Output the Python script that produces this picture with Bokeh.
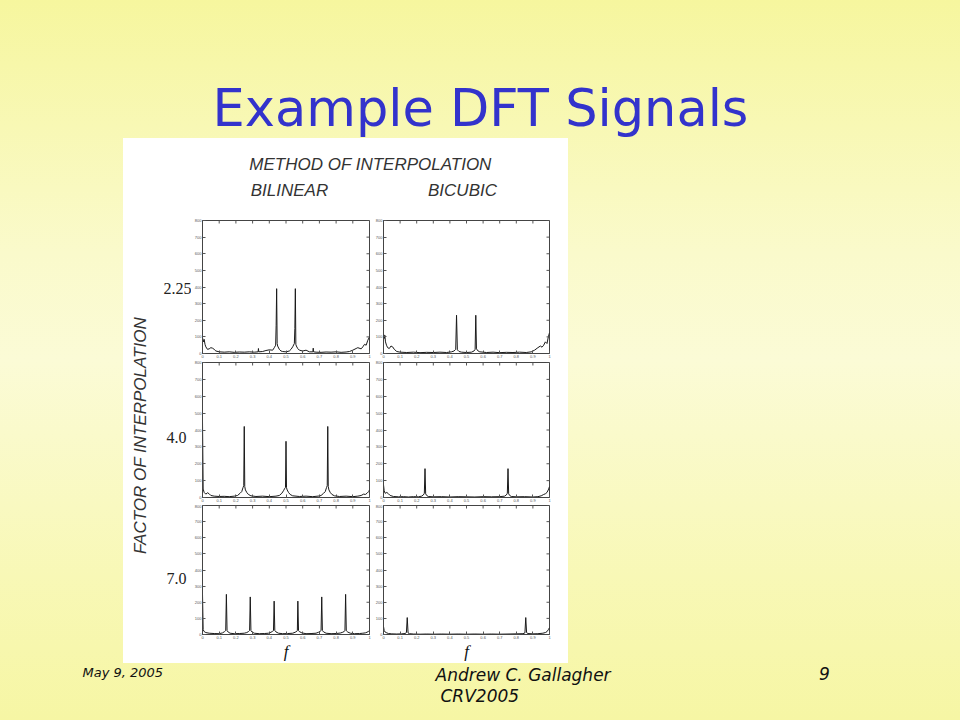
import math
from bokeh.plotting import figure
from bokeh.layouts import row, column
from bokeh.models import Spacer, Range1d, FixedTicker, GlobalInlineStyleSheet
from bokeh.core.properties import value
from bokeh.embed import file_html
from bokeh.resources import INLINE

# ---------------- data ----------------
title_text = "Example DFT Signals"
method_title = "METHOD OF INTERPOLATION"
methods = ["BILINEAR", "BICUBIC"]
factor_title = "FACTOR OF INTERPOLATION"
factors = ["2.25", "4.0", "7.0"]
footer_date = "May 9, 2005"
footer_author = "Andrew C. Gallagher"
footer_conf = "CRV2005"
footer_page = "9"

x_ticks = [0, 0.1, 0.2, 0.3, 0.4, 0.5, 0.6, 0.7, 0.8, 0.9, 1]
y_ticks = [0, 100, 200, 300, 400, 500, 600, 700, 800]

# factor 2.25, bilinear
f_bl_225 = [0.0, 0.005, 0.01, 0.015, 0.02, 0.03, 0.04, 0.05, 0.06, 0.07, 0.08, 0.10, 0.13, 0.16, 0.19, 0.22,
            0.25, 0.28, 0.31, 0.333, 0.335, 0.337, 0.36, 0.38, 0.40, 0.42, 0.43, 0.438, 0.441, 0.444, 0.447,
            0.45, 0.46, 0.47, 0.48, 0.50, 0.52, 0.53, 0.54, 0.55, 0.553, 0.556, 0.559, 0.562, 0.57, 0.58, 0.60,
            0.62, 0.64, 0.661, 0.663, 0.665, 0.68, 0.71, 0.74, 0.77, 0.80, 0.83, 0.86, 0.88, 0.90, 0.92, 0.93,
            0.95, 0.96, 0.97, 0.98, 0.99, 1.0]
m_bl_225 = [95, 70, 85, 55, 40, 25, 28, 35, 32, 25, 15, 10, 8, 10, 7, 9,
            8, 10, 8, 10, 30, 10, 12, 18, 22, 20, 35, 50, 170, 390, 60,
            45, 25, 15, 12, 10, 15, 25, 40, 60, 150, 390, 55, 45, 30, 20, 15,
            20, 10, 10, 32, 10, 8, 7, 9, 8, 10, 7, 9, 12, 20, 30, 35,
            28, 40, 55, 50, 80, 100]

# factor 2.25, bicubic
f_bc_225 = [0.0, 0.004, 0.008, 0.012, 0.018, 0.025, 0.035, 0.045, 0.055, 0.065, 0.08, 0.10, 0.14, 0.18, 0.22,
            0.26, 0.30, 0.34, 0.38, 0.41, 0.425, 0.435, 0.44, 0.445, 0.455, 0.47, 0.50, 0.53, 0.545, 0.552,
            0.556, 0.56, 0.57, 0.58, 0.62, 0.66, 0.70, 0.74, 0.78, 0.82, 0.86, 0.89, 0.91, 0.93, 0.945, 0.955,
            0.965, 0.975, 0.985, 0.993, 1.0]
m_bc_225 = [120, 90, 110, 70, 50, 35, 30, 45, 40, 25, 12, 8, 6, 8, 5,
            7, 6, 8, 6, 10, 15, 25, 230, 22, 12, 8, 6, 8, 15, 25,
            230, 28, 15, 10, 6, 8, 5, 7, 6, 8, 6, 10, 20, 35, 45, 38,
            50, 70, 60, 100, 125]

# factor 4.0, bilinear
f_bl_40 = [0.0, 0.004, 0.01, 0.02, 0.03, 0.04, 0.05, 0.07, 0.10, 0.13, 0.16, 0.19, 0.21, 0.225, 0.235, 0.243,
           0.247, 0.25, 0.253, 0.257, 0.265, 0.275, 0.29, 0.32, 0.36, 0.40, 0.44, 0.46, 0.475, 0.485, 0.493,
           0.497, 0.50, 0.503, 0.507, 0.515, 0.525, 0.54, 0.58, 0.62, 0.66, 0.70, 0.71, 0.725, 0.735, 0.743,
           0.747, 0.75, 0.753, 0.757, 0.765, 0.775, 0.79, 0.82, 0.86, 0.90, 0.93, 0.95, 0.965, 0.975, 0.985,
           0.995, 1.0]
m_bl_40 = [450, 50, 30, 20, 28, 22, 12, 8, 6, 7, 5, 8, 12, 25, 35, 60,
           70, 421, 65, 45, 30, 18, 10, 6, 8, 5, 8, 12, 25, 40, 55,
           60, 333, 58, 45, 30, 18, 10, 6, 8, 5, 9, 12, 25, 35, 60,
           70, 421, 65, 45, 30, 18, 10, 6, 8, 5, 8, 12, 20, 18, 25,
           35, 45]

# factor 4.0, bicubic
f_bc_40 = [0.0, 0.004, 0.01, 0.02, 0.03, 0.04, 0.06, 0.09, 0.12, 0.15, 0.18, 0.21, 0.23, 0.24, 0.246, 0.25,
           0.254, 0.26, 0.27, 0.30, 0.35, 0.40, 0.45, 0.50, 0.55, 0.60, 0.65, 0.70, 0.73, 0.74, 0.746, 0.75,
           0.754, 0.76, 0.77, 0.80, 0.85, 0.90, 0.93, 0.95, 0.965, 0.975, 0.985, 0.995, 1.0]
m_bc_40 = [75, 40, 25, 30, 22, 12, 6, 4, 5, 3, 5, 4, 8, 15, 25, 171,
           22, 12, 6, 4, 5, 3, 5, 4, 3, 5, 4, 5, 8, 15, 25, 171,
           22, 12, 6, 4, 5, 3, 5, 10, 18, 22, 30, 50, 65]

# factor 7.0, bilinear
f_bl_70 = [0.0, 0.004, 0.01, 0.02, 0.04, 0.07, 0.10, 0.12, 0.132, 0.139, 0.143, 0.147, 0.154, 0.165, 0.19, 0.22,
           0.25, 0.265, 0.275, 0.282, 0.286, 0.29, 0.297, 0.31, 0.34, 0.37, 0.395, 0.41, 0.42, 0.425, 0.429,
           0.433, 0.44, 0.455, 0.48, 0.51, 0.54, 0.555, 0.565, 0.568, 0.571, 0.575, 0.58, 0.595, 0.62, 0.65,
           0.68, 0.695, 0.705, 0.71, 0.714, 0.718, 0.725, 0.74, 0.77, 0.80, 0.825, 0.84, 0.85, 0.853, 0.857,
           0.861, 0.87, 0.885, 0.91, 0.94, 0.96, 0.975, 0.985, 0.995, 1.0]
m_bl_70 = [250, 30, 18, 12, 8, 6, 5, 10, 18, 25, 249, 24, 15, 8, 5, 6,
           8, 12, 18, 25, 233, 24, 15, 8, 5, 6, 8, 14, 20, 24, 207,
           25, 16, 8, 5, 6, 8, 14, 20, 25, 207, 24, 18, 10, 5, 6,
           8, 14, 20, 25, 233, 24, 16, 8, 5, 6, 9, 14, 20, 25, 249,
           24, 15, 8, 5, 6, 8, 10, 14, 20, 22]

# factor 7.0, bicubic
f_bc_70 = [0.0, 0.004, 0.01, 0.02, 0.03, 0.05, 0.08, 0.11, 0.13, 0.138, 0.143, 0.148, 0.155, 0.18, 0.22, 0.26,
           0.30, 0.35, 0.40, 0.45, 0.50, 0.55, 0.60, 0.65, 0.70, 0.75, 0.80, 0.84, 0.852, 0.857, 0.862, 0.87,
           0.90, 0.93, 0.96, 0.975, 0.985, 0.993, 1.0]
m_bc_70 = [50, 25, 15, 10, 6, 4, 3, 4, 6, 12, 105, 10, 5, 3, 2, 3,
           2, 3, 2, 3, 2, 3, 2, 3, 2, 3, 4, 5, 10, 105, 12, 6,
           4, 5, 8, 12, 18, 30, 42]

panels = [
    [(f_bl_225, m_bl_225), (f_bc_225, m_bc_225)],
    [(f_bl_40, m_bl_40), (f_bc_40, m_bc_40)],
    [(f_bl_70, m_bl_70), (f_bc_70, m_bc_70)],
]
for r in panels:
    for fv, mv in r:
        assert len(fv) == len(mv), (len(fv), len(mv))

X_MAX = x_ticks[-1]
Y_MAX = y_ticks[-1]

# ---------------- helpers ----------------
def text_fig(w, h, x0, x1, y0, y1, fill=None):
    p = figure(width=w, height=h, x_range=Range1d(x0, x1), y_range=Range1d(y1, y0),
               x_axis_type=None, y_axis_type=None, output_backend="svg", toolbar_location=None,
               min_border=0, outline_line_color=None,
               background_fill_color=fill, border_fill_color=fill)
    if fill is None:
        p.background_fill_alpha = 0
        p.border_fill_alpha = 0
    return p


def panel(fv, mv, w, h, bl, br, bt, bb, xlabel=None):
    p = figure(width=w, height=h, x_range=Range1d(0, X_MAX), y_range=Range1d(0, Y_MAX),
               output_backend="svg", toolbar_location=None,
               min_border_left=bl, min_border_right=br, min_border_top=bt, min_border_bottom=bb,
               background_fill_color="white", border_fill_color="white",
               outline_line_color="#444", outline_line_width=1)
    p.grid.visible = False
    p.line(fv, mv, line_color="#1a1a1a", line_width=1.0)
    # inward ticks on the top and right edges of the box
    p.ray(x=x_ticks, y=[Y_MAX] * len(x_ticks), length=3, length_units="screen",
          angle=-math.pi / 2, line_color="#555", line_width=1)
    p.ray(x=[X_MAX] * len(y_ticks), y=y_ticks, length=3, length_units="screen",
          angle=math.pi, line_color="#555", line_width=1)
    xa = p.xaxis[0]
    ya = p.yaxis[0]
    xa.ticker = FixedTicker(ticks=x_ticks)
    xa.major_label_overrides = {0: "0", 1: "1"}
    ya.ticker = FixedTicker(ticks=y_ticks)
    for ax in (xa, ya):
        ax.major_label_text_font_size = "4px"
        ax.major_label_text_color = "#555555"
        ax.major_label_standoff = 1
        ax.major_tick_in = 3
        ax.major_tick_out = 0
        ax.minor_tick_in = 0
        ax.minor_tick_out = 0
        ax.axis_line_color = "#444"
        ax.major_tick_line_color = "#555"
    if xlabel:
        xa.axis_label = xlabel
        xa.axis_label_text_font = "Liberation Serif"
        xa.axis_label_text_font_style = "italic"
        xa.axis_label_text_font_size = "17px"
        xa.axis_label_text_color = "#111111"
        xa.axis_label_standoff = 0
    return p

# ---------------- title ----------------
title_fig = text_fig(960, 138, 0, 960, 0, 138)
title_fig.text(x=[480], y=[137], text=[title_text], text_font=value("DejaVu Sans"),
               text_font_size="51px", text_color="#3333CC", text_align="center",
               text_baseline="bottom")

# ---------------- white image block ----------------
left_fig = text_fig(68, 525, 123, 191, 138, 663, fill="white")
left_fig.text(x=[140], y=[435], text=[factor_title], angle=math.pi / 2,
              text_font=value("Liberation Sans"), text_font_style="italic",
              text_font_size="17px", text_color="#333333", text_align="center", text_baseline="middle")
left_fig.text(x=[177, 176, 176], y=[288, 437, 578], text=factors,
              text_font=value("Liberation Serif"), text_font_size="16px", text_color="#222222",
              text_align="center", text_baseline="middle")

header_fig = text_fig(377, 78, 191, 568, 138, 216, fill="white")
header_fig.text(x=[370], y=[164], text=[method_title], text_font=value("Liberation Sans"),
                text_font_style="italic", text_font_size="17px", text_color="#333333",
                text_align="center", text_baseline="middle")
header_fig.text(x=[289, 462], y=[190, 190], text=methods, text_font=value("Liberation Sans"),
                text_font_style="italic", text_font_size="17px", text_color="#333333",
                text_align="center", text_baseline="middle")

row_specs = [(144, 4, 7, None), (144, 2, 7, None), (159, 1, 26, "f")]
grid_rows = []
for (h, bt, bb, xl), prow in zip(row_specs, panels):
    (fa, ma), (fb, mb) = prow
    pa = panel(fa, ma, 181, h, 11, 3, bt, bb, xl)
    pb = panel(fb, mb, 196, h, 9, 19, bt, bb, xl)
    grid_rows.append(row(pa, pb, spacing=0, styles={"background-color": "white"}))

right_part = column(header_fig, *grid_rows, spacing=0, styles={"background-color": "white"})
white_block = row(left_fig, right_part, spacing=0, styles={"background-color": "white"})
middle = row(Spacer(width=123, height=525), white_block, Spacer(width=392, height=525), spacing=0)

# ---------------- footer ----------------
footer_fig = text_fig(960, 57, 0, 960, 663, 720)
footer_fig.text(x=[82], y=[672], text=[footer_date], text_font=value("DejaVu Sans"),
                text_font_style="italic", text_font_size="13px", text_color="#111111",
                text_align="left", text_baseline="middle")
footer_fig.text(x=[435], y=[674], text=[footer_author], text_font=value("DejaVu Sans"),
                text_font_style="italic", text_font_size="17px", text_color="#111111",
                text_align="left", text_baseline="middle")
footer_fig.text(x=[440], y=[695], text=[footer_conf], text_font=value("DejaVu Sans"),
                text_font_style="italic", text_font_size="17px", text_color="#111111",
                text_align="left", text_baseline="middle")
footer_fig.text(x=[824], y=[673], text=[footer_page], text_font=value("DejaVu Sans"),
                text_font_style="italic", text_font_size="17px", text_color="#111111",
                text_align="center", text_baseline="middle")

css = ("html { min-height: 100%; background: linear-gradient(to bottom, #F6F69E 0%, #FAFACB 35%, "
       "#FBFBD6 50%, #F8F8B6 80%, #F6F6A4 100%); } body { margin: 0; background: transparent; }")
page = column(title_fig, middle, footer_fig, spacing=0,
              stylesheets=[GlobalInlineStyleSheet(css=css)])

open("out.html", "w").write(file_html(page, INLINE))
